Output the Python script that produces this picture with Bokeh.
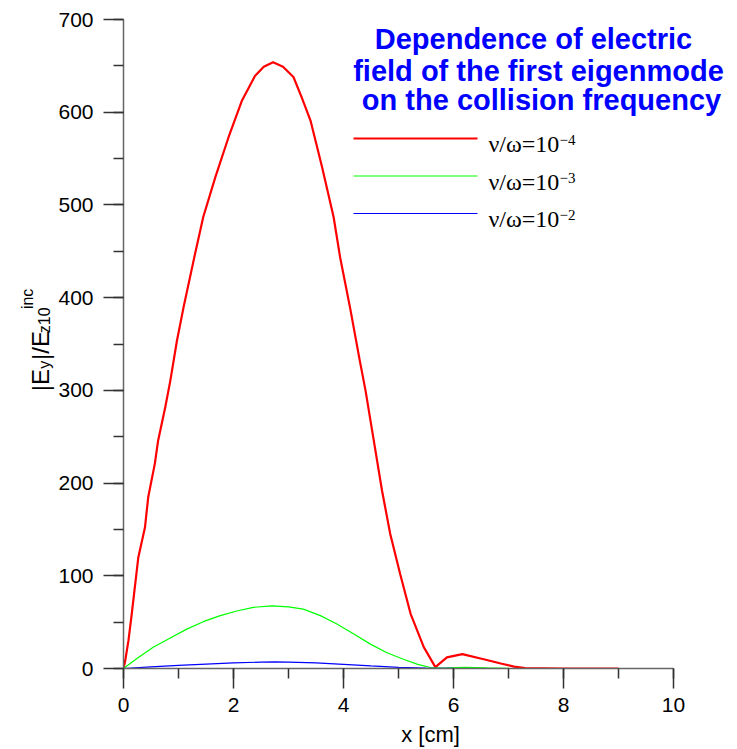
from math import pi

from bokeh.core.properties import value
from bokeh.embed import file_html
from bokeh.layouts import row
from bokeh.models import Range1d, SingleIntervalTicker
from bokeh.plotting import figure
from bokeh.resources import INLINE

# |E_y| / E_z10^inc along x, for three collision frequencies
x_red = [0, 0.03, 0.09, 0.15, 0.27, 0.39, 0.45, 0.57, 0.63, 0.76, 0.85, 0.97, 1.09, 1.30,
         1.45, 1.67, 1.91, 2.15, 2.39, 2.55, 2.72, 2.90, 3.09, 3.24, 3.40, 3.61, 3.82, 3.94,
         4.12, 4.29, 4.40, 4.55, 4.70, 4.85, 5.03, 5.22, 5.46, 5.67, 5.88, 6.16, 6.55, 6.86,
         7.10, 7.30, 8.00, 9.00]
y_red = [0, 8, 30, 59, 120, 152, 185, 221, 246, 282, 310, 353, 389, 447,
         487, 530, 573, 612, 639, 649, 654, 649, 638, 616, 591, 541, 487, 443,
         389, 334, 300, 246, 192, 145, 102, 59, 23, 1.5, 12, 15.5, 10, 5.4,
         2.0, 0.4, 0, 0]

x_green = [0, 0.25, 0.54, 0.85, 1.15, 1.45, 1.76, 2.06, 2.36, 2.70, 3.00, 3.27, 3.58,
           3.88, 4.18, 4.49, 4.79, 5.09, 5.35, 5.58, 5.80, 6.20, 6.60, 7.00, 8.00, 9.00]
y_green = [0, 11, 23, 33, 42.5, 50.5, 57, 62, 66, 67.6, 66.5, 64, 57,
           48, 37.5, 26.3, 17, 10, 4.5, 1.1, 0.5, 1.2, 0.6, 0.2, 0, 0]

x_blue = [0, 0.5, 1.0, 1.5, 2.0, 2.5, 2.75, 3.0, 3.5, 4.0, 4.5, 5.0, 5.5, 6.0, 7.0, 8.0, 9.0]
y_blue = [0, 1.8, 3.4, 4.8, 6.0, 6.9, 7.1, 6.9, 6.0, 4.5, 2.8, 1.3, 0.4, 0.1, 0, 0, 0]

series_colors = ["#ff0000", "#00ff00", "#0000ff"]
series_widths = [2.2, 1.2, 1.2]
series_exponents = ["\u22124", "\u22123", "\u22122"]

title_lines = ["Dependence of electric", "field of the first eigenmode", "on the collision frequency"]

X_MAX, Y_MAX = 10, 700          # extent of the drawn axes
W, H = 737, 749                 # whole page
STRIP = 55                      # strip on the left holding the y-axis title
LEFT, BOTTOM = 68, 81           # borders of the main plot
PX_X = 55.0                     # pixels per cm
PX_Y = 649.0 / 700.0            # pixels per unit of |E|
FX0 = STRIP + LEFT              # page column of x = 0
FY0 = H - BOTTOM                # page row of y = 0


def dx(px):
    """page column -> x in cm"""
    return (px - FX0) / PX_X


def dy(py):
    """page row -> y value"""
    return (FY0 - py) / PX_Y


p = figure(width=W - STRIP, height=H, output_backend="svg", toolbar_location=None,
           x_range=Range1d(0, dx(W)), y_range=Range1d(0, dy(0)),
           min_border_left=LEFT, min_border_right=0,
           min_border_top=0, min_border_bottom=BOTTOM)
p.outline_line_color = None
p.xgrid.visible = False
p.ygrid.visible = False

p.xaxis.ticker = SingleIntervalTicker(interval=2, num_minor_ticks=2)
p.yaxis.ticker = SingleIntervalTicker(interval=100, num_minor_ticks=2)
p.xaxis.bounds = (0, X_MAX)
p.yaxis.bounds = (0, Y_MAX)
for ax in (p.xaxis, p.yaxis):
    ax.axis_line_color = "#666666"
    ax.axis_line_width = 1.5
    ax.major_tick_line_color = "#333333"
    ax.minor_tick_line_color = "#333333"
    ax.major_tick_line_width = 1.5
    ax.minor_tick_line_width = 1.5
    ax.major_tick_out = 20
    ax.major_tick_in = 0
    ax.minor_tick_out = 10
    ax.minor_tick_in = 0
    ax.major_label_text_font = "Liberation Sans"
    ax.major_label_text_font_size = "21px"
    ax.major_label_text_color = "black"
p.xaxis.major_label_standoff = 9
p.yaxis.major_label_standoff = 10
p.xaxis.axis_label = "x [cm]"
p.xaxis.axis_label_text_font = "Liberation Sans"
p.xaxis.axis_label_text_font_style = "normal"
p.xaxis.axis_label_text_font_size = "22px"
p.xaxis.axis_label_text_color = "black"
p.xaxis.axis_label_standoff = 7

for xs, ys, c, w in zip([x_red, x_green, x_blue], [y_red, y_green, y_blue],
                        series_colors, series_widths):
    p.line(xs, ys, line_color=c, line_width=w)

# title block, upper right
p.text(x=[dx(533), dx(538), dx(541)], y=[dy(38), dy(70), dy(99)], text=title_lines,
       text_font=value("Liberation Sans"), text_font_style="bold", text_font_size="29px",
       text_color="#0000ff", text_align="center", text_baseline="alphabetic")

# hand-drawn legend
for i, (c, w, e) in enumerate(zip(series_colors, series_widths, series_exponents)):
    ly = 138 + i * 37.5
    p.line([dx(353), dx(477)], [dy(ly), dy(ly)], line_color=c, line_width=w)
    base = 143.5 + i * 37.5
    p.text(x=[dx(488)], y=[dy(base)], text=["\u03bd/\u03c9=10"],
           text_font=value("Liberation Serif"), text_font_size="24px",
           text_color="black", text_baseline="alphabetic")
    p.text(x=[dx(559)], y=[dy(base - 4)], text=[e],
           text_font=value("Liberation Serif"), text_font_size="15px",
           text_color="black", text_baseline="alphabetic")

# y-axis title |E_y|/E_z10^inc, written bottom to top in its own strip
ylabel_parts = ["|E", "y", "|/E", "z10", "inc"]
ylabel_cols = [40, 44, 40, 44, 27]
ylabel_rows = [438, 413, 403, 373, 346]
ylabel_sizes = ["24px", "16px", "24px", "16px", "16px"]

q = figure(width=STRIP, height=H, output_backend="svg", toolbar_location=None,
           x_axis_location=None, y_axis_location=None,
           x_range=Range1d(0, STRIP), y_range=Range1d(0, H),
           min_border=0, outline_line_color=None)
q.xgrid.visible = False
q.ygrid.visible = False
for txt, cx, ry, size in zip(ylabel_parts, ylabel_cols, ylabel_rows, ylabel_sizes):
    q.text(x=[cx], y=[H - ry], text=[txt], angle=pi / 2,
           text_font=value("Liberation Sans"), text_font_size=size,
           text_color="black", text_align="left", text_baseline="alphabetic")

page = row(q, p, spacing=0)
open("out.html", "w").write(file_html(page, INLINE))
